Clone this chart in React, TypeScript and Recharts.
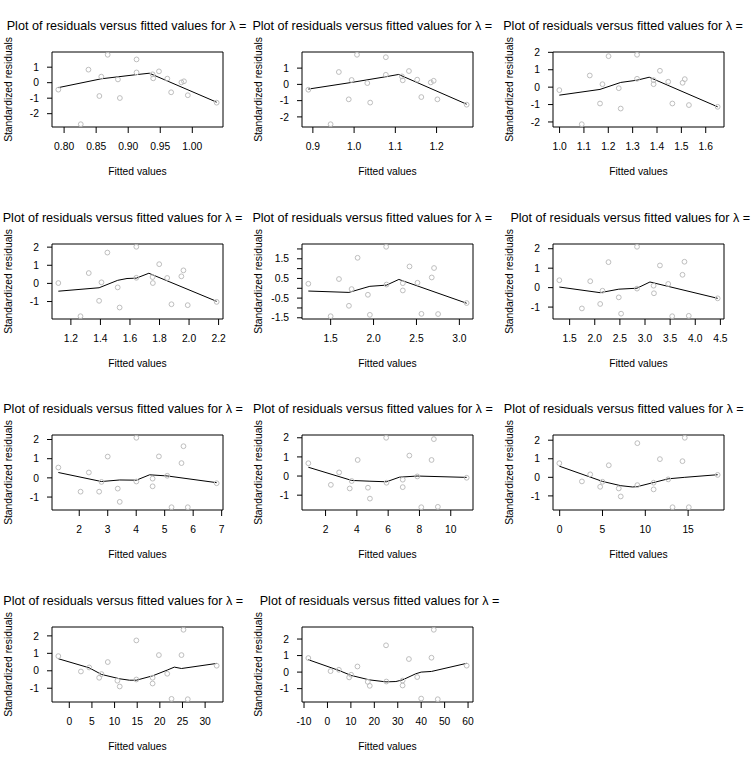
import React from 'react';
import { ComposedChart, Scatter, Line, XAxis, YAxis, ReferenceArea } from 'recharts';

const TITLE = 'Plot of residuals versus fitted values for λ =';
const X_TITLE = 'Fitted values';
const Y_TITLE = 'Standardized residuals';

// panel 1
const fit1 = [0.791, 0.826, 0.838, 0.855, 0.858, 0.868, 0.884, 0.887, 0.913, 0.913, 0.938, 0.939, 0.948, 0.961, 0.967, 0.983, 0.987, 0.993, 1.038];
const res1 = [-0.45, -2.68, 0.84, -0.86, 0.39, 1.8, 0.21, -0.99, 1.5, 0.66, 0.54, 0.28, 0.73, 0.26, -0.62, 0.02, 0.09, -0.81, -1.29];
const smoothX1 = [0.791, 0.858, 0.913, 0.933, 1.038];
const smoothY1 = [-0.32, 0.25, 0.52, 0.61, -1.26];
const xLabels1 = ['0.80', '0.85', '0.90', '0.95', '1.00'];
const yTicks1 = [-2, -1, 0, 1];
const yLabels1 = ['-2', '-1', '0', '1'];

// panel 2
const fit2 = [0.889, 0.943, 0.963, 0.987, 0.994, 1.007, 1.032, 1.039, 1.077, 1.077, 1.116, 1.118, 1.133, 1.153, 1.163, 1.186, 1.193, 1.202, 1.273];
const res2 = [-0.33, -2.45, 0.76, -0.92, 0.27, 1.82, 0.08, -1.12, 1.67, 0.59, 0.49, 0.25, 0.82, 0.29, -0.78, 0.12, 0.22, -0.92, -1.25];
const smoothX2 = [0.889, 0.994, 1.077, 1.108, 1.273];
const smoothY2 = [-0.29, 0.12, 0.47, 0.61, -1.22];
const xLabels2 = ['0.9', '1.0', '1.1', '1.2'];
const yTicks2 = [-2, -1, 0, 1];
const yLabels2 = ['-2', '-1', '0', '1'];

// panel 3
const fit3 = [0.999, 1.091, 1.124, 1.166, 1.176, 1.201, 1.243, 1.251, 1.318, 1.318, 1.386, 1.386, 1.412, 1.446, 1.463, 1.505, 1.514, 1.531, 1.649];
const res3 = [-0.17, -2.13, 0.67, -0.94, 0.17, 1.78, -0.06, -1.23, 1.86, 0.48, 0.4, 0.17, 0.94, 0.31, -0.94, 0.25, 0.46, -1.03, -1.13];
const smoothX3 = [0.999, 1.166, 1.251, 1.318, 1.368, 1.649];
const smoothY3 = [-0.46, -0.13, 0.27, 0.4, 0.57, -1.13];
const xLabels3 = ['1.0', '1.1', '1.2', '1.3', '1.4', '1.5', '1.6'];
const yTicks3 = [-2, -1, 0, 1, 2];
const yLabels3 = ['-2', '-1', '0', '1', '2'];

// panel 4
const fit4 = [1.115, 1.265, 1.321, 1.391, 1.407, 1.447, 1.517, 1.53, 1.643, 1.643, 1.753, 1.755, 1.798, 1.852, 1.881, 1.948, 1.962, 1.991, 2.187];
const res4 = [0.02, -1.81, 0.57, -0.96, 0.06, 1.7, -0.22, -1.33, 2.02, 0.31, 0.35, 0.02, 1.06, 0.3, -1.15, 0.39, 0.72, -1.2, -1.02];
const smoothX4 = [1.115, 1.391, 1.517, 1.58, 1.643, 1.728, 2.187];
const smoothY4 = [-0.43, -0.24, 0.17, 0.27, 0.29, 0.56, -0.99];
const xLabels4 = ['1.2', '1.4', '1.6', '1.8', '2.0', '2.2'];
const yTicks4 = [-1, 0, 1, 2];
const yLabels4 = ['-1', '0', '1', '2'];

// panel 5
const fit5 = [1.24, 1.5, 1.597, 1.713, 1.744, 1.814, 1.934, 1.957, 2.147, 2.151, 2.341, 2.341, 2.419, 2.512, 2.558, 2.678, 2.705, 2.752, 3.085];
const res5 = [0.23, -1.42, 0.47, -0.89, -0.04, 1.55, -0.33, -1.35, 2.11, 0.19, 0.26, -0.11, 1.11, 0.28, -1.3, 0.55, 1.03, -1.31, -0.75];
const smoothX5 = [1.24, 1.713, 1.9, 1.957, 2.151, 2.295, 3.085];
const smoothY5 = [-0.14, -0.21, 0.03, 0.1, 0.16, 0.45, -0.76];
const xLabels5 = ['1.5', '2.0', '2.5', '3.0'];
const yTicks5 = [-1.5, -1, -0.5, 0, 0.5, 1, 1.5, 2];
const yLabels5 = ['-1.5', '', '-0.5', '', '0.5', '', '1.5', ''];

// panel 6
const fit6 = [1.295, 1.744, 1.91, 2.108, 2.154, 2.273, 2.478, 2.524, 2.841, 2.841, 3.171, 3.178, 3.297, 3.462, 3.541, 3.746, 3.785, 3.871, 4.446];
const res6 = [0.38, -1.07, 0.33, -0.84, -0.16, 1.31, -0.5, -1.34, 2.1, -0.05, 0.1, -0.29, 1.14, 0.19, -1.47, 0.66, 1.33, -1.45, -0.55];
const smoothX6 = [1.295, 2.108, 2.478, 2.841, 3.098, 4.446];
const smoothY6 = [0.03, -0.26, -0.08, -0.03, 0.29, -0.55];
const xLabels6 = ['1.5', '2.0', '2.5', '3.0', '3.5', '4.0', '4.5'];
const yTicks6 = [-1, 0, 1, 2];
const yLabels6 = ['-1', '0', '1', '2'];

// panel 7
const fit7 = [1.266, 2.047, 2.338, 2.699, 2.781, 3.0, 3.352, 3.422, 4.005, 4.005, 4.576, 4.576, 4.797, 5.089, 5.24, 5.59, 5.66, 5.811, 6.825];
const res7 = [0.54, -0.72, 0.28, -0.72, -0.21, 1.11, -0.56, -1.25, 2.09, -0.19, -0.04, -0.44, 1.12, 0.11, -1.53, 0.77, 1.65, -1.53, -0.28];
const smoothX7 = [1.266, 2.781, 3.422, 4.005, 4.47, 5.089, 6.825];
const smoothY7 = [0.28, -0.19, -0.11, -0.12, 0.16, 0.1, -0.25];
const xLabels7 = ['2', '3', '4', '5', '6', '7'];
const yTicks7 = [-1, 0, 1, 2];
const yLabels7 = ['-1', '0', '1', '2'];

// panel 8
const fit8 = [0.9, 2.339, 2.868, 3.545, 3.672, 4.053, 4.709, 4.836, 5.873, 5.894, 6.931, 6.931, 7.354, 7.862, 8.116, 8.772, 8.92, 9.175, 11.016];
const res8 = [0.67, -0.46, 0.19, -0.65, -0.26, 0.84, -0.61, -1.18, 2.0, -0.35, -0.19, -0.58, 1.07, -0.02, -1.63, 0.84, 1.93, -1.61, -0.09];
const smoothX8 = [0.9, 3.672, 4.836, 5.894, 6.72, 7.862, 11.016];
const smoothY8 = [0.46, -0.23, -0.27, -0.3, -0.06, 0.0, -0.07];
const xLabels8 = ['2', '4', '6', '8', '10'];
const yTicks8 = [-1, 0, 1, 2];
const yLabels8 = ['-1', '0', '1', '2'];

// panel 9
const fit9 = [-0.04, 2.597, 3.566, 4.729, 5.0, 5.736, 6.899, 7.132, 9.07, 9.07, 10.97, 10.97, 11.705, 12.674, 13.18, 14.34, 14.61, 15.08, 18.45];
const res9 = [0.76, -0.22, 0.16, -0.51, -0.24, 0.65, -0.6, -1.03, 1.84, -0.42, -0.29, -0.65, 0.98, -0.11, -1.61, 0.87, 2.13, -1.61, 0.13];
const smoothX9 = [-0.04, 5.0, 7.132, 8.5, 9.07, 10.97, 12.674, 14.61, 18.45];
const smoothY9 = [0.6, -0.22, -0.45, -0.52, -0.5, -0.28, -0.08, 0.0, 0.14];
const xLabels9 = ['0', '5', '10', '15'];
const yTicks9 = [-1, 0, 1, 2];
const yLabels9 = ['-1', '0', '1', '2'];

// panel 10
const fit10 = [-2.42, 2.57, 4.4, 6.6, 7.11, 8.5, 10.63, 11.14, 14.81, 14.81, 18.4, 18.4, 19.79, 21.63, 22.58, 24.78, 25.22, 26.17, 32.55];
const res10 = [0.84, -0.04, 0.19, -0.4, -0.19, 0.5, -0.57, -0.9, 1.74, -0.5, -0.4, -0.73, 0.9, -0.17, -1.61, 0.9, 2.35, -1.63, 0.29];
const smoothX10 = [-2.42, 4.4, 7.11, 11.14, 13.3, 14.81, 18.4, 21.63, 23.2, 24.78, 32.55];
const smoothY10 = [0.69, 0.17, -0.21, -0.46, -0.54, -0.54, -0.29, 0.04, 0.21, 0.13, 0.42];
const xLabels10 = ['0', '5', '10', '15', '20', '25', '30'];
const yTicks10 = [-1, 0, 1, 2];
const yLabels10 = ['-1', '0', '1', '2'];

// panel 11
const fit11 = [-8.16, 1.33, 4.87, 9.26, 10.11, 12.8, 17.2, 18.05, 25.0, 25.13, 32.07, 32.07, 34.76, 38.3, 40.0, 44.39, 45.38, 47.08, 59.41];
const res11 = [0.85, 0.06, 0.14, -0.32, -0.16, 0.34, -0.59, -0.83, 1.62, -0.57, -0.51, -0.81, 0.79, -0.3, -1.6, 0.87, 2.56, -1.64, 0.39];
const smoothX11 = [-8.16, 4.87, 10.11, 17.9, 25.0, 29.2, 32.07, 37.7, 40.0, 44.39, 59.41];
const smoothY11 = [0.75, 0.1, -0.2, -0.47, -0.59, -0.57, -0.47, -0.1, 0.0, 0.04, 0.53];
const xLabels11 = ['-10', '0', '10', '20', '30', '40', '50', '60'];
const yTicks11 = [-1, 0, 1, 2];
const yLabels11 = ['-1', '0', '1', '2'];

// where each title starts inside its panel
const titleX = [6.7, 2.4, 2.2, 2.7, 2.4, 9.4, 3.2, 3.0, 2.8, 3.3, 9.7];

const PANEL_W = 751 / 3;
const PANEL_H = 766 / 4;
const FONT = '"Liberation Sans", Arial, Helvetica, sans-serif';

const zip = (xs: number[], ys: number[]) => xs.map((x, i) => ({ x, y: ys[i] }));

const panels = [
  { fit: fit1, res: res1, sx: smoothX1, sy: smoothY1, xl: xLabels1, yt: yTicks1, yl: yLabels1 },
  { fit: fit2, res: res2, sx: smoothX2, sy: smoothY2, xl: xLabels2, yt: yTicks2, yl: yLabels2 },
  { fit: fit3, res: res3, sx: smoothX3, sy: smoothY3, xl: xLabels3, yt: yTicks3, yl: yLabels3 },
  { fit: fit4, res: res4, sx: smoothX4, sy: smoothY4, xl: xLabels4, yt: yTicks4, yl: yLabels4 },
  { fit: fit5, res: res5, sx: smoothX5, sy: smoothY5, xl: xLabels5, yt: yTicks5, yl: yLabels5 },
  { fit: fit6, res: res6, sx: smoothX6, sy: smoothY6, xl: xLabels6, yt: yTicks6, yl: yLabels6 },
  { fit: fit7, res: res7, sx: smoothX7, sy: smoothY7, xl: xLabels7, yt: yTicks7, yl: yLabels7 },
  { fit: fit8, res: res8, sx: smoothX8, sy: smoothY8, xl: xLabels8, yt: yTicks8, yl: yLabels8 },
  { fit: fit9, res: res9, sx: smoothX9, sy: smoothY9, xl: xLabels9, yt: yTicks9, yl: yLabels9 },
  { fit: fit10, res: res10, sx: smoothX10, sy: smoothY10, xl: xLabels10, yt: yTicks10, yl: yLabels10 },
  { fit: fit11, res: res11, sx: smoothX11, sy: smoothY11, xl: xLabels11, yt: yTicks11, yl: yLabels11 },
];

// R style: data range padded by 4% each side
const padRange = (vals: number[]): [number, number] => {
  const lo = Math.min(...vals);
  const hi = Math.max(...vals);
  const d = (hi - lo) * 0.04;
  return [lo - d, hi + d];
};

const Ring = (props: any) => {
  const { cx, cy } = props;
  if (cx == null || cy == null) return null;
  return <circle cx={cx} cy={cy} r={2.4} fill="none" stroke="#bebebe" strokeWidth={1} />;
};

type PanelData = (typeof panels)[number];

const ResidualPanel = ({ p, idx }: { p: PanelData; idx: number }) => {
  const points = zip(p.fit, p.res);
  const smooth = zip(p.sx, p.sy);
  const xDom = padRange(p.fit);
  const yDom = padRange(p.res);
  const xTicks = p.xl.map(Number);
  const col = idx % 3;
  const row = Math.floor(idx / 3);
  const tickStyle = { fill: '#000', fontSize: 10.3, fontFamily: FONT };

  return (
    <div
      style={{
        position: 'absolute',
        left: col * PANEL_W,
        top: row * PANEL_H,
        width: PANEL_W,
        height: PANEL_H,
        overflow: 'hidden',
      }}
    >
      <svg
        width={PANEL_W}
        height={PANEL_H}
        style={{ position: 'absolute', left: 0, top: 0, pointerEvents: 'none' }}
      >
        <text x={titleX[idx]} y={30} fontSize={12.6} fontFamily={FONT} fill="#000">
          {TITLE}
        </text>
        <text x={137.5} y={175.4} fontSize={10.3} fontFamily={FONT} fill="#000" textAnchor="middle">
          {X_TITLE}
        </text>
        <text
          x={11.7}
          y={89.5}
          fontSize={10.3}
          fontFamily={FONT}
          fill="#000"
          textAnchor="middle"
          transform="rotate(-90, 11.7, 89.5)"
        >
          {Y_TITLE}
        </text>
      </svg>
      <ComposedChart width={250} height={191} margin={{ top: 52, right: 27, bottom: 34, left: 0 }}>
        <XAxis
          type="number"
          dataKey="x"
          domain={xDom}
          allowDataOverflow
          ticks={xTicks}
          interval={0}
          tickFormatter={(v: number) => p.xl[xTicks.indexOf(v)] ?? String(v)}
          axisLine={false}
          tickLine={{ stroke: '#000' }}
          tickSize={6}
          tickMargin={10}
          height={30}
          tick={tickStyle}
        />
        <YAxis
          type="number"
          dataKey="y"
          domain={yDom}
          allowDataOverflow
          ticks={p.yt}
          interval={0}
          tickFormatter={(v: number) => p.yl[p.yt.indexOf(v)] ?? ''}
          axisLine={false}
          tickLine={{ stroke: '#000' }}
          tickSize={5}
          tickMargin={8}
          width={52}
          tick={tickStyle}
        />
        <ReferenceArea
          x1={xDom[0]}
          x2={xDom[1]}
          y1={yDom[0]}
          y2={yDom[1]}
          fill="none"
          fillOpacity={0}
          stroke="#000"
          strokeWidth={1}
          ifOverflow="visible"
        />
        <Scatter data={points} shape={Ring} isAnimationActive={false} />
        <Line
          data={smooth}
          dataKey="y"
          type="linear"
          stroke="#000"
          strokeWidth={1}
          dot={false}
          activeDot={false}
          isAnimationActive={false}
        />
      </ComposedChart>
    </div>
  );
};

export default function App() {
  return (
    <div style={{ position: 'absolute', left: 0, top: 0, width: 751, height: 766, background: '#fff' }}>
      {panels.map((p, i) => (
        <ResidualPanel key={i} p={p} idx={i} />
      ))}
    </div>
  );
}
